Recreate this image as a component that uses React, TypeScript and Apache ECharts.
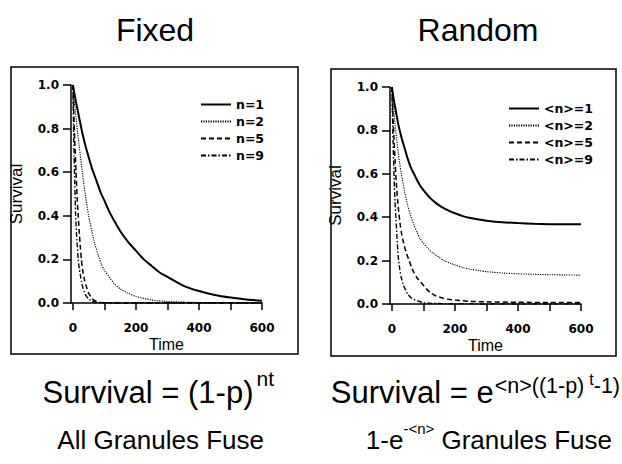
import React, { useEffect, useRef } from "react";
import * as echarts from "echarts";

// Panel headings and legend entries
const panelTitles = ["Fixed", "Random"];
const fixedNames = ["n=1", "n=2", "n=5", "n=9"];
const randomNames = ["<n>=1", "<n>=2", "<n>=5", "<n>=9"];

// Axis ticks
const xTickLabels = [0, 200, 400, 600];
const xTickMarks = [0, 100, 200, 300, 400, 500, 600];

// Fixed number of granules: [time, survival]
const fixedN1 = [[0, 1], [5, 0.96], [10, 0.92], [20, 0.85], [30, 0.78], [40, 0.72], [50, 0.67], [60, 0.62], [75, 0.56], [90, 0.5], [100, 0.47], [115, 0.42], [130, 0.38], [150, 0.33], [175, 0.28], [200, 0.24], [225, 0.2], [250, 0.17], [275, 0.14], [300, 0.12], [350, 0.08], [400, 0.055], [450, 0.037], [500, 0.025], [550, 0.016], [600, 0.01]];
const fixedN2 = [[0, 1], [5, 0.92], [10, 0.85], [15, 0.78], [20, 0.72], [30, 0.6], [40, 0.49], [50, 0.4], [60, 0.33], [70, 0.27], [80, 0.22], [90, 0.18], [100, 0.15], [115, 0.12], [130, 0.09], [150, 0.065], [175, 0.045], [200, 0.03], [250, 0.014], [300, 0.007], [400, 0.002], [500, 0.001], [600, 0]];
const fixedN5 = [[0, 1], [3, 0.86], [6, 0.74], [10, 0.6], [14, 0.47], [17, 0.4], [20, 0.33], [24, 0.25], [27, 0.2], [31, 0.15], [35, 0.12], [38, 0.1], [44, 0.07], [50, 0.045], [60, 0.022], [70, 0.011], [85, 0.004], [100, 0.001], [150, 0], [600, 0]];
const fixedN9 = [[0, 1], [2, 0.82], [4, 0.67], [6, 0.55], [8.5, 0.41], [11, 0.33], [14, 0.26], [17, 0.2], [20, 0.16], [24, 0.125], [27, 0.1], [31, 0.075], [36, 0.05], [42, 0.033], [49, 0.02], [60, 0.009], [75, 0.003], [100, 0.001], [150, 0], [600, 0]];

// Poisson-distributed number of granules: [time, survival]
const randomN1 = [[0, 1], [5, 0.95], [10, 0.91], [20, 0.83], [30, 0.77], [40, 0.72], [50, 0.67], [60, 0.63], [70, 0.6], [80, 0.57], [90, 0.545], [100, 0.525], [120, 0.49], [140, 0.465], [160, 0.445], [180, 0.43], [200, 0.418], [225, 0.405], [250, 0.396], [275, 0.389], [300, 0.384], [350, 0.377], [400, 0.373], [450, 0.37], [500, 0.368], [550, 0.367], [600, 0.367]];
const randomN2 = [[0, 1], [5, 0.91], [10, 0.83], [15, 0.76], [20, 0.7], [25, 0.645], [30, 0.6], [40, 0.52], [50, 0.455], [60, 0.405], [70, 0.365], [80, 0.33], [90, 0.3], [100, 0.28], [115, 0.255], [130, 0.235], [150, 0.215], [165, 0.2], [185, 0.188], [200, 0.18], [225, 0.168], [250, 0.16], [275, 0.154], [300, 0.149], [350, 0.143], [400, 0.139], [450, 0.137], [500, 0.135], [550, 0.134], [600, 0.133]];
const randomN5 = [[0, 1], [3, 0.88], [6, 0.78], [10, 0.66], [14, 0.56], [18, 0.48], [22, 0.42], [26, 0.37], [30, 0.33], [35, 0.295], [40, 0.265], [47, 0.23], [55, 0.2], [62, 0.17], [70, 0.145], [80, 0.12], [92, 0.1], [108, 0.072], [124, 0.05], [140, 0.037], [160, 0.028], [180, 0.022], [200, 0.018], [250, 0.012], [300, 0.01], [400, 0.008], [500, 0.007], [600, 0.007]];
const randomN9 = [[0, 1], [2, 0.86], [4, 0.74], [6, 0.63], [8, 0.54], [10, 0.47], [13, 0.39], [16, 0.31], [20, 0.22], [25, 0.16], [30, 0.12], [35, 0.095], [40, 0.075], [50, 0.046], [60, 0.03], [70, 0.021], [80, 0.015], [100, 0.006], [125, 0.003], [150, 0.002], [200, 0.001], [300, 0], [600, 0]];

const fixedSeries = [fixedN1, fixedN2, fixedN5, fixedN9];
const randomSeries = [randomN1, randomN2, randomN5, randomN9];

const sans = '"Liberation Sans", Arial, Helvetica, sans-serif';
const tickFont = '"DejaVu Sans", sans-serif';
const ink = "#000";

const dashStyles: any[] = [
  { type: "solid", width: 2 },
  { type: [1.2, 1.2], width: 1.1 },
  { type: [5, 3], width: 1.5 },
  { type: [5, 2, 1.5, 2], width: 1.4 },
];

function makeX(gridIndex: number) {
  return {
    type: "value",
    gridIndex,
    min: -6,
    max: 600,
    name: "Time",
    nameLocation: "middle",
    nameGap: 33,
    nameTextStyle: { fontFamily: sans, fontSize: 16, color: ink },
    axisLine: { onZero: false, lineStyle: { color: ink, width: 1.5 } },
    axisTick: { customValues: xTickMarks, length: 7, lineStyle: { color: ink, width: 1.5 } },
    axisLabel: { customValues: xTickLabels, margin: 19, fontFamily: tickFont, fontWeight: "bold", fontSize: 12, color: ink },
    splitLine: { show: false },
  };
}

function makeY(gridIndex: number) {
  return {
    type: "value",
    gridIndex,
    min: 0,
    max: 1,
    interval: 0.2,
    name: "Survival",
    nameLocation: "middle",
    nameRotate: 90,
    nameGap: 46,
    nameTextStyle: { fontFamily: sans, fontSize: 17, color: ink },
    axisLine: { show: true, onZero: false, lineStyle: { color: ink, width: 1.5 } },
    axisTick: { show: true, length: 8, lineStyle: { color: ink, width: 1.5 } },
    axisLabel: {
      formatter: (v: number) => v.toFixed(1),
      margin: 12,
      fontFamily: tickFont,
      fontWeight: "bold",
      fontSize: 12,
      color: ink,
    },
    splitLine: { show: false },
  };
}

function makeSeries(names: string[], data: number[][][], idx: number) {
  return names.map((name, i) => ({
    name,
    type: "line",
    xAxisIndex: idx,
    yAxisIndex: idx,
    data: data[i],
    symbol: "none",
    smooth: 0.25,
    lineStyle: { color: ink, ...dashStyles[i] },
    itemStyle: { color: ink },
    z: 4 - i,
  }));
}

function makeLegend(names: string[], left: number, top: number) {
  return {
    data: names,
    left,
    top,
    padding: 0,
    orient: "vertical",
    itemWidth: 30,
    itemHeight: 14,
    itemGap: 4,
    selectedMode: false,
    itemStyle: { opacity: 0 },
    textStyle: { fontFamily: tickFont, fontWeight: "bold", fontSize: 12.5, color: ink },
  };
}

// A run of text pieces set on a shared baseline; each piece may be raised.
type Piece = { text: string; size: number; rise: number; gap?: number };

function textRun(pieces: Piece[], rightX: number, baseline: number) {
  const ctx = document.createElement("canvas").getContext("2d")!;
  const widths = pieces.map((p) => {
    ctx.font = `${p.size}px ${sans}`;
    return ctx.measureText(p.text).width + (p.gap || 0);
  });
  let x = rightX - widths.reduce((a, b) => a + b, 0);
  return pieces.map((p, i) => {
    const el = {
      type: "text",
      x: x + (p.gap || 0),
      y: baseline - p.rise - 0.35 * p.size,
      style: { text: p.text, font: `${p.size}px ${sans}`, fill: ink, align: "left", verticalAlign: "middle" },
      silent: true,
    };
    x += widths[i];
    return el;
  });
}

export default function App() {
  const ref = useRef<HTMLDivElement>(null);

  useEffect(() => {
    if (!ref.current) return;
    const chart = echarts.init(ref.current, undefined, { renderer: "svg" });

    const option: any = {
      animation: false,
      backgroundColor: "#fff",
      grid: [
        { left: 71, top: 85, width: 191, height: 218 },
        { left: 390, top: 87, width: 191, height: 217 },
      ],
      xAxis: [makeX(0), makeX(1)],
      yAxis: [makeY(0), makeY(1)],
      legend: [makeLegend(fixedNames, 200, 98), makeLegend(randomNames, 508, 102)],
      series: [...makeSeries(fixedNames, fixedSeries, 0), ...makeSeries(randomNames, randomSeries, 1)],
      graphic: [
        // panel frames
        { type: "rect", shape: { x: 11, y: 67, width: 287, height: 287 }, style: { fill: "none", stroke: ink, lineWidth: 1.5 }, silent: true },
        { type: "rect", shape: { x: 331, y: 69, width: 285, height: 287 }, style: { fill: "none", stroke: ink, lineWidth: 1.5 }, silent: true },
        // headings
        { type: "text", x: 155, y: 30, style: { text: panelTitles[0], font: `32px ${sans}`, fill: ink, align: "center", verticalAlign: "middle" } },
        { type: "text", x: 478, y: 30, style: { text: panelTitles[1], font: `32px ${sans}`, fill: ink, align: "center", verticalAlign: "middle" } },
        // survival formulas
        ...textRun(
          [
            { text: "Survival = (1-p)", size: 31, rise: 0 },
            { text: "nt", size: 21, rise: 17, gap: 3 },
          ],
          274,
          403
        ),
        ...textRun(
          [
            { text: "Survival = e", size: 31, rise: 0 },
            { text: "<n>((1-p)", size: 21.5, rise: 9, gap: 1 },
            { text: "t", size: 16, rise: 18, gap: 5 },
            { text: "-1)", size: 21.5, rise: 9 },
          ],
          620,
          403
        ),
        // captions
        ...textRun([{ text: "All Granules Fuse", size: 26, rise: 0 }], 264, 449),
        ...textRun(
          [
            { text: "1-e", size: 26, rise: 0 },
            { text: "-<n>", size: 15, rise: 15 },
            { text: " Granules Fuse", size: 26, rise: 0 },
          ],
          612,
          449
        ),
      ],
    };

    chart.setOption(option);
    return () => chart.dispose();
  }, []);

  return (
    <div
      ref={ref}
      style={{ position: "absolute", left: 0, top: 0, width: 622, height: 464, background: "#fff" }}
    />
  );
}
